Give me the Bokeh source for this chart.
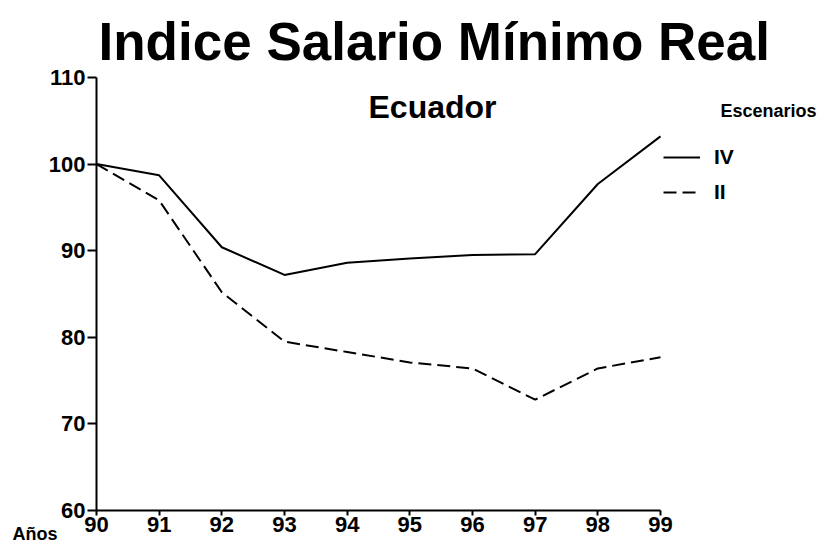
from bokeh.plotting import figure
from bokeh.models import Range1d, Legend, LegendItem, Label, FixedTicker
from bokeh.embed import file_html
from bokeh.resources import INLINE

years = [90, 91, 92, 93, 94, 95, 96, 97, 98, 99]
esc_iv = [100, 98.7, 90.4, 87.2, 88.6, 89.1, 89.5, 89.6, 97.7, 103.2]
esc_ii = [100, 95.8, 85.2, 79.5, 78.3, 77.1, 76.4, 72.8, 76.4, 77.7]
y_ticks = [60, 70, 80, 90, 100, 110]
title_text = "Indice Salario Mínimo Real"
subtitle_text = "Ecuador"
legend_title = "Escenarios"
x_axis_text = "Años"

W, H = 822, 542
FL, FR, FT, FB = 96, 822, 0, 510       # frame edges in page pixels
AX_R, AX_T = 660, 77                    # where 99 and 110 land
xpx = (AX_R - FL) / (years[-1] - years[0])
ypx = (FB - AX_T) / (y_ticks[-1] - y_ticks[0])
x_end = years[-1] + (FR - AX_R) / xpx
y_end = y_ticks[-1] + (AX_T - FT) / ypx

p = figure(width=W, height=H, output_backend="svg", toolbar_location=None,
           x_range=Range1d(years[0], x_end), y_range=Range1d(y_ticks[0], y_end),
           min_border_left=FL, min_border_right=W - FR, min_border_top=FT,
           min_border_bottom=H - FB)
p.outline_line_color = None
p.grid.grid_line_color = None
p.background_fill_color = "white"

r1 = p.line(years, esc_iv, line_color="black", line_width=2)
r2 = p.line(years, esc_ii, line_color="black", line_width=2, line_dash="13 6")

for ax in (p.xaxis[0], p.yaxis[0]):
    ax.axis_line_color = "black"
    ax.axis_line_width = 2
    ax.major_tick_line_color = "black"
    ax.major_tick_line_width = 2
    ax.minor_tick_line_color = None
    ax.major_tick_in = 0
    ax.major_label_text_font = "Liberation Sans"
    ax.major_label_text_font_style = "bold"
    ax.major_label_text_font_size = "22px"
    ax.major_label_text_color = "black"

p.xaxis.ticker = FixedTicker(ticks=years)
p.xaxis.bounds = (years[0], years[-1])
p.xaxis.major_tick_out = 5
p.xaxis.major_label_standoff = 1
p.yaxis.ticker = FixedTicker(ticks=y_ticks)
p.yaxis.bounds = (y_ticks[0], y_ticks[-1])
p.yaxis.major_tick_out = 9
p.yaxis.major_label_standoff = 2

def sx(X):
    return X - FL

def sy(Y):
    return FB - Y

legend = Legend(items=[LegendItem(label="IV", renderers=[r1]),
                       LegendItem(label="II", renderers=[r2])],
                location=(sx(663), sy(204)), padding=0, margin=0, spacing=11,
                glyph_width=37, glyph_height=24, label_height=24, label_standoff=14,
                border_line_color=None, background_fill_alpha=0,
                label_text_font="Liberation Sans", label_text_font_style="bold",
                label_text_font_size="21px", label_text_color="black")
p.add_layout(legend)

p.add_layout(Label(x=sx(98), y=sy(41), x_units="screen", y_units="screen", text=title_text,
                   text_font="Liberation Sans", text_font_style="bold",
                   text_font_size="53px",
                   text_baseline="alphabetic", text_color="black"))
p.add_layout(Label(x=sx(432), y=sy(106), x_units="screen", y_units="screen", text=subtitle_text,
                   text_font="Liberation Sans", text_font_style="bold", text_font_size="32px",
                   text_align="center", text_baseline="alphabetic", text_color="black"))
p.add_layout(Label(x=sx(720), y=sy(110), x_units="screen", y_units="screen", text=legend_title,
                   text_font="Liberation Sans", text_font_style="bold", text_font_size="18px",
                   text_baseline="alphabetic", text_color="black"))
p.add_layout(Label(x=12, y=FB - 533, x_units="screen", y_units="screen", text=x_axis_text,
                   text_font="Liberation Sans", text_font_style="bold", text_font_size="18px",
                   text_baseline="alphabetic", text_color="black"), "left")

open("out.html", "w").write(file_html(p, INLINE))
